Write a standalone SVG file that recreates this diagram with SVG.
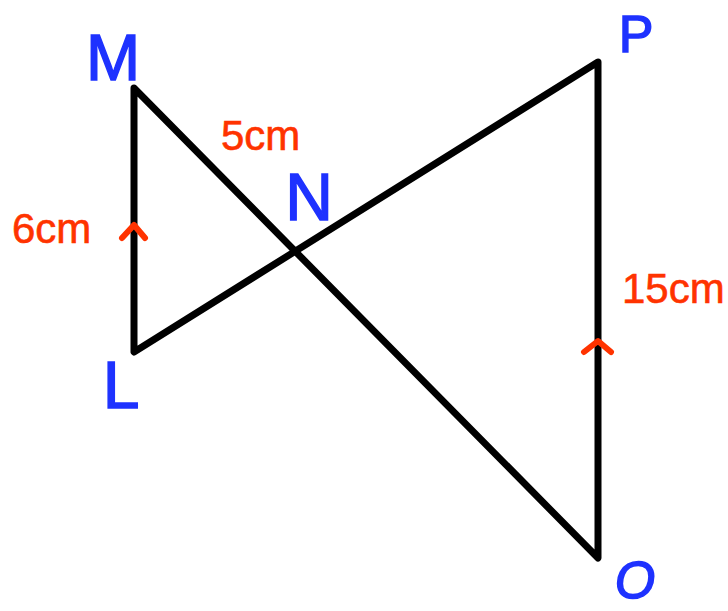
<svg xmlns="http://www.w3.org/2000/svg" width="728" height="611" viewBox="0 0 728 611">
<style>
.edge{fill:none;stroke:#000;stroke-width:7;stroke-linejoin:round;stroke-linecap:round}
.lbl{font-family:"Liberation Sans",Arial,sans-serif;fill:#1e32ff;stroke:#1e32ff;stroke-width:1.5;text-anchor:middle}
.meas{font-family:"Liberation Sans",Arial,sans-serif;fill:#ff3300;stroke:#ff3300;stroke-width:0.6;font-size:42px}
.tick{fill:none;stroke:#ff3300;stroke-width:6;stroke-linecap:round;stroke-linejoin:round}
</style>
<rect width="728" height="611" fill="#fff"/>
<g id="connectors">
<path class="edge" d="M134,88 L598,558 L598,62 L134,352 Z"/>
<path class="tick" d="M122,238 L134,225 L145,238"/>
<path class="tick" d="M584,352 L598,341 L611,352"/>
</g>
<g id="M"><text class="lbl" x="113" y="80" font-size="65">M</text></g>
<g id="P"><text class="lbl" x="636" y="52" font-size="52">P</text></g>
<g id="N"><text class="lbl" x="309" y="220" font-size="66">N</text></g>
<g id="L"><text class="lbl" x="121" y="408" font-size="66">L</text></g>
<g id="O"><text class="lbl" x="635" y="598" font-size="52" font-style="italic">O</text></g>
<g id="measures">
<text class="meas" x="12" y="243">6cm</text>
<text class="meas" x="221" y="150">5cm</text>
<text class="meas" x="622" y="303">15cm</text>
</g>
</svg>
